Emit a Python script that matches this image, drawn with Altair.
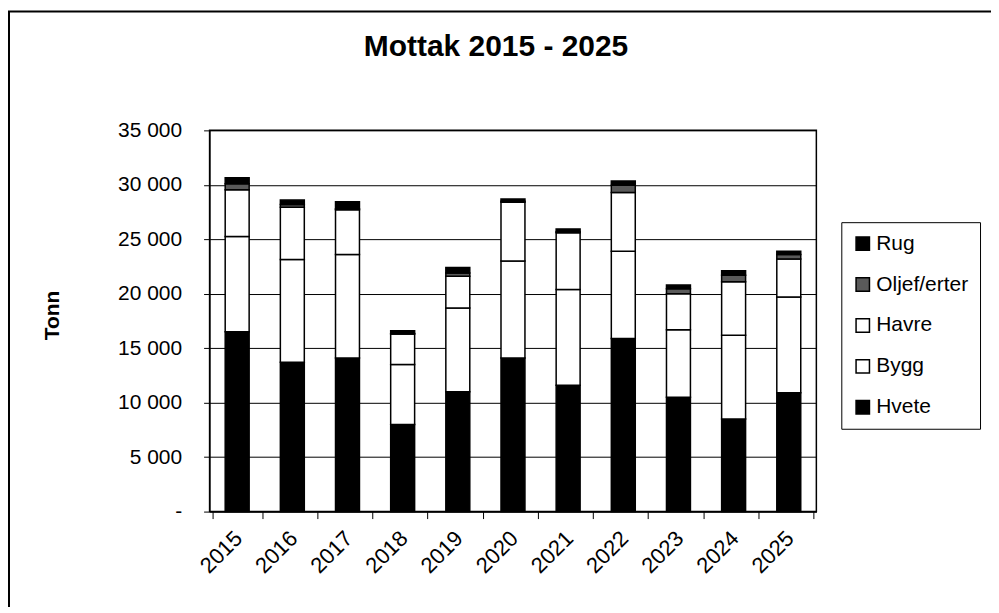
import altair as alt
import pandas as pd

years = ["2015", "2016", "2017", "2018", "2019", "2020", "2021", "2022", "2023", "2024", "2025"]
hvete = [16500, 13700, 14100, 8000, 11000, 14100, 11600, 15900, 10500, 8500, 10900]
bygg = [8750, 9450, 9500, 5500, 7700, 8900, 8800, 8000, 6200, 7700, 8800]
havre = [4300, 4800, 4100, 2800, 2900, 5400, 5200, 5400, 3300, 4900, 3500]
oljef = [550, 250, 100, 50, 300, 100, 100, 650, 450, 600, 400]
rug = [550, 400, 650, 250, 500, 200, 250, 400, 350, 400, 300]

series = ["Hvete", "Bygg", "Havre", "Oljef/erter", "Rug"]
legend_order = ["Rug", "Oljef/erter", "Havre", "Bygg", "Hvete"]
colors = ["#000000", "#5a5a5a", "#ffffff", "#ffffff", "#000000"]
y_ticks = [0, 5000, 10000, 15000, 20000, 25000, 30000, 35000]

rows = []
for i, y in enumerate(years):
    for k, (name, vals) in enumerate(zip(series, [hvete, bygg, havre, oljef, rug])):
        rows.append({"year": y, "kind": name, "order": k, "value": vals[i]})
df = pd.DataFrame(rows)

FONT = "Liberation Sans"
W, H = 608, 382

bars = alt.Chart(df).mark_bar(size=24, stroke="black", strokeWidth=1.5).encode(
    x=alt.X("year:N", sort=years, title=None,
            axis=alt.Axis(labelAngle=-45, labelAlign="right", labelBaseline="middle",
                          labelFontSize=22, labelFont=FONT, labelColor="black",
                          labelPadding=16, labelOffset=1,
                          tickBand="extent", tickSize=7, tickColor="black",
                          domainColor="black", grid=False)),
    y=alt.Y("value:Q", stack="zero", title="Tonn",
            scale=alt.Scale(domain=[0, 35000], nice=False),
            axis=alt.Axis(values=y_ticks, tickSize=6, tickColor="black",
                          labelExpr="datum.value == 0 ? '-' : replace(datum.label, ',', ' ')",
                          labelFontSize=21, labelFont=FONT, labelColor="black", labelPadding=22,
                          grid=True, gridColor="black", gridWidth=1, gridOpacity=1,
                          domainColor="black",
                          titleFont=FONT, titleFontSize=21, titleFontWeight="bold",
                          titleColor="black", titleX=-157, titleY=185,
                          titleAlign="center", titleBaseline="middle", titleAngle=-90)),
    color=alt.Color("kind:N",
                    scale=alt.Scale(domain=legend_order, range=colors),
                    legend=alt.Legend(title=None, orient="none", legendX=633, legendY=92,
                                      symbolType="square", symbolSize=180,
                                      symbolStrokeColor="black", symbolStrokeWidth=1.5,
                                      labelFont=FONT, labelFontSize=21, labelColor="black",
                                      labelOffset=3, rowPadding=19,
                                      strokeColor="black", fillColor="white",
                                      padding=11)),
    order=alt.Order("order:Q", sort="ascending"),
)

frame = alt.Chart(alt.Data(values=[{"a": 1}])).mark_rect(
    fill=None, stroke="black", strokeWidth=2
).encode(
    x=alt.value(-201), x2=alt.value(W + 300),
    y=alt.value(-119), y2=alt.value(H + 300),
)

chart = alt.layer(bars, frame).properties(
    width=W, height=H,
    title=alt.TitleParams("Mottak 2015 - 2025", font=FONT, fontSize=30, fontWeight="bold",
                          color="black", anchor="middle", frame="group",
                          baseline="alphabetic", dx=-17, dy=75, offset=0),
    autosize=alt.AutoSizeParams(type="none"),
    padding={"left": 202, "top": 122, "right": 175, "bottom": 95},
    background="white",
).configure_view(stroke="black", strokeWidth=1.5)

chart.save("out.html", embed_options={"renderer": "svg", "actions": False})
